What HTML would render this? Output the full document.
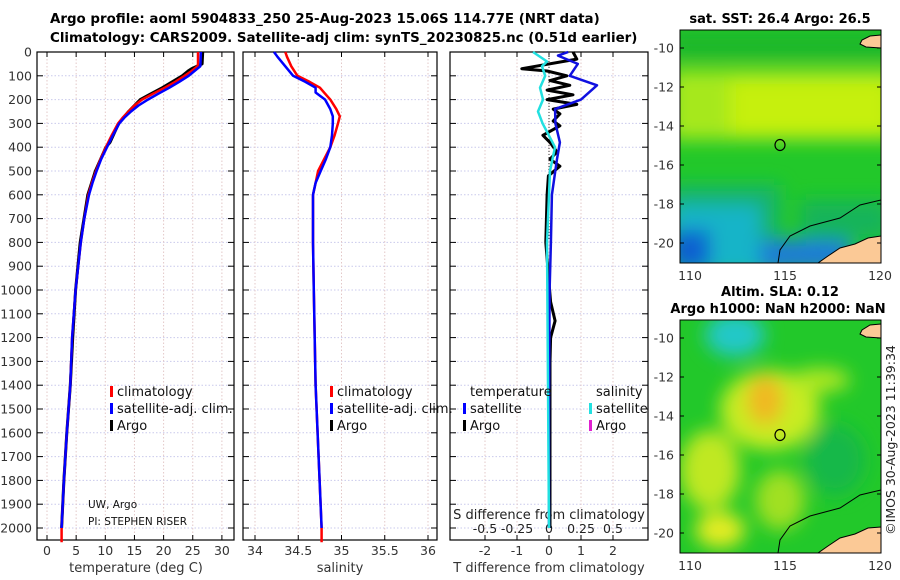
<!DOCTYPE html>
<html><head><meta charset="utf-8">
<style>
body{margin:0;background:#fff;}
svg{display:block;font-family:"DejaVu Sans","Liberation Sans",sans-serif;}
</style></head>
<body>
<svg id="root" width="900" height="580" viewBox="0 0 900 580" xmlns="http://www.w3.org/2000/svg">
<defs>
<filter id="blur" x="-20%" y="-20%" width="140%" height="140%"><feGaussianBlur stdDeviation="9"/></filter>
<clipPath id="m1"><rect x="680" y="30" width="201" height="233"/></clipPath>
<clipPath id="m2"><rect x="680" y="320" width="201" height="233"/></clipPath>
</defs>
<text x="50" y="23" font-size="13.4" font-weight="bold">Argo profile: aoml 5904833_250 25-Aug-2023 15.06S 114.77E (NRT data)</text>
<text x="50" y="42" font-size="13.4" font-weight="bold">Climatology: CARS2009. Satellite-adj clim: synTS_20230825.nc (0.51d earlier)</text>
<g id="plots"></g>

<!-- SST map -->
<g>
<text x="780" y="23" font-size="13" font-weight="bold" text-anchor="middle">sat. SST: 26.4 Argo: 26.5</text>
<g clip-path="url(#m1)">
<rect x="680" y="30" width="201" height="233" fill="#22c82a"/>
<g filter="url(#blur)">
<rect x="670" y="70" width="230" height="70" fill="#a6e81e"/>
<rect x="730" y="80" width="160" height="55" fill="#c6f010"/>
<rect x="670" y="30" width="230" height="30" fill="#1ab82a"/>
<rect x="670" y="185" width="110" height="90" fill="#12b46a"/>
<rect x="670" y="205" width="90" height="70" fill="#16b4c8"/>
<rect x="670" y="230" width="40" height="40" fill="#1060d0"/>
<rect x="800" y="200" width="90" height="40" fill="#14b45a"/>
<rect x="760" y="240" width="90" height="30" fill="#1a7ad8"/>
</g>
<path d="M881,236 L868,238 L855,244 L840,248 L828,256 L818,263 L881,263 Z" fill="#fbc996" stroke="#000" stroke-width="1"/>
<path d="M881,35 L870,36 L862,40 L860,44 L866,47 L881,48 Z" fill="#fbc996" stroke="#000" stroke-width="1"/>
<path d="M778,263 L780,250 L790,236 L810,226 L840,218 L860,205 L881,200" fill="none" stroke="#000" stroke-width="1"/>
</g>
<rect x="680" y="30" width="201" height="233" fill="none" stroke="#000" stroke-width="1"/>
<ellipse cx="780" cy="145" rx="5" ry="5.5" fill="none" stroke="#000" stroke-width="1.2"/>
</g>
<!-- SLA map -->
<g>
<text x="780" y="296" font-size="13" font-weight="bold" text-anchor="middle">Altim. SLA: 0.12</text>
<text x="778" y="313" font-size="13" font-weight="bold" text-anchor="middle">Argo h1000: NaN h2000: NaN</text>
<g clip-path="url(#m2)">
<rect x="680" y="320" width="201" height="233" fill="#22c82a"/>
<g filter="url(#blur)">
<ellipse cx="735" cy="335" rx="30" ry="22" fill="#20c8c8"/>
<ellipse cx="770" cy="410" rx="50" ry="40" fill="#c8ec20"/>
<ellipse cx="765" cy="400" rx="18" ry="25" fill="#f0b820"/>
<ellipse cx="820" cy="380" rx="30" ry="12" fill="#b0e820"/>
<ellipse cx="710" cy="470" rx="30" ry="40" fill="#c0e820"/>
<ellipse cx="720" cy="530" rx="25" ry="18" fill="#e4ec20"/>
<ellipse cx="780" cy="500" rx="25" ry="30" fill="#a0e020"/>
<ellipse cx="835" cy="460" rx="30" ry="35" fill="#14b84a"/>
</g>
<path d="M881,527 L868,528 L855,534 L840,538 L828,546 L818,553 L881,553 Z" fill="#fbc996" stroke="#000" stroke-width="1"/>
<path d="M881,324 L870,325 L862,330 L860,334 L866,337 L881,338 Z" fill="#fbc996" stroke="#000" stroke-width="1"/>
<path d="M778,553 L780,540 L790,526 L810,516 L840,508 L860,495 L881,490" fill="none" stroke="#000" stroke-width="1"/>
</g>
<rect x="680" y="320" width="201" height="233" fill="none" stroke="#000" stroke-width="1"/>
<ellipse cx="780" cy="435" rx="5" ry="5.5" fill="none" stroke="#000" stroke-width="1.2"/>
</g>
<g id="maptk"></g>
<text transform="translate(895,440) rotate(-90)" font-size="12.5" fill="#222" text-anchor="middle">©IMOS 30-Aug-2023 11:39:34</text>
</svg>
<script>
// ---- data ----
const depthTicks=[0,100,200,300,400,500,600,700,800,900,1000,1100,1200,1300,1400,1500,1600,1700,1800,1900,2000];
const tempTicks=[0,5,10,15,20,25,30];
const salTicks=[34,34.5,35,35.5,36];
const tdiffTicks=[-2,-1,0,1,2];
const sdiffTicks=[-0.5,-0.25,0,0.25,0.5];
const tempClimDepth=[0,50,60,80,100,125,150,175,200,225,250,275,300,350,400,450,500,550,600,700,800,1000,1200,1400,1600,1800,2000,2060];
const tempClimVal=[25.9,25.9,25.8,24.8,23.6,22.0,20.2,18.2,16.3,15.0,14.0,13.0,12.2,11.1,10.1,9.2,8.4,7.7,7.1,6.4,5.8,4.9,4.3,4.0,3.4,2.9,2.5,2.5];
const tempSatDepth=[0,60,80,100,125,150,175,200,225,250,275,300,350,400,450,500,550,600,700,800,1000,1200,1400,1600,1800,2000];
const tempSatVal=[26.4,26.3,25.3,24.3,22.7,21.0,19.1,17.3,15.7,14.4,13.3,12.4,11.3,10.3,9.3,8.5,7.8,7.2,6.4,5.8,4.9,4.3,4.0,3.4,2.9,2.5];
const tempArgoDepth=[0,50,70,80,100,125,150,180,200,250,300,380,400,500,600,800,1000,1200,1400,1600,1800,2000];
const tempArgoVal=[26.7,26.6,24.8,24.2,23.2,21.5,19.8,17.5,16.0,14.0,12.3,10.8,10.1,8.3,7.0,5.7,4.9,4.4,4.0,3.4,2.9,2.5];
const salClimDepth=[0,20,60,100,125,150,175,200,240,270,300,350,400,450,500,550,600,800,1000,1400,2000,2060];
const salClimVal=[34.35,34.37,34.42,34.49,34.63,34.75,34.81,34.87,34.94,34.98,34.96,34.92,34.87,34.8,34.73,34.7,34.67,34.67,34.68,34.7,34.77,34.77];
const salSatDepth=[0,20,60,100,125,150,170,200,240,270,300,350,400,450,500,550,600,800,1000,1400,2000];
const salSatVal=[34.22,34.26,34.35,34.44,34.58,34.7,34.7,34.81,34.87,34.9,34.9,34.89,34.87,34.82,34.76,34.7,34.67,34.67,34.68,34.7,34.77];
const tdSatDepth=[0,15,50,100,140,200,240,300,380,450,600,800,1000,1500,2000];
const tdSatVal=[0.6,0.28,0.9,0.65,1.5,1.0,0.19,0.2,0.34,0.25,0.09,0.06,0.02,0.0,0.0];
const tdArgoDepth=[0,30,70,80,100,120,140,160,180,200,220,240,260,290,310,350,380,420,450,480,520,600,800,1000,1050,1130,1200,1300,2000];
const tdArgoVal=[0.75,0.87,-0.85,-0.06,0.56,0.03,0.65,-0.06,0.75,-0.06,0.87,0.13,0.34,0.13,0.34,-0.19,0.03,0.25,0.03,0.34,-0.02,-0.06,-0.1,0.02,0.05,0.19,0.05,0.03,0.03];
const sdSatDepth=[0,40,60,100,150,200,250,300,400,500,800,2000];
const sdSatVal=[-0.125,-0.016,-0.055,-0.03,-0.07,-0.047,-0.086,-0.05,0.047,0.008,-0.016,0.0];
const latTicks=[-10,-12,-14,-16,-18,-20];
const lonTicks=[110,115,120];

const NS='http://www.w3.org/2000/svg';
const g=document.getElementById('plots');
function el(t,a,p){const e=document.createElementNS(NS,t);for(const k in a)e.setAttribute(k,a[k]);(p||g).appendChild(e);return e;}
const Y0=52,Y1=540;
const yD=d=>52+d*0.238;
const panels=[{x0:37,x1:234,name:'temperature'},{x0:243,x1:437,name:'salinity'},{x0:450,x1:648,name:'difference'}];
const xT=v=>47+v*5.83;
const xS=v=>255+(v-34)*86.5;
const xTD=v=>549+v*32;
const xSD=v=>549+v*128;
function line(xs,ds,f,color,w,name,grp){
  const p=el('path',{d:ds.map((d,i)=>(i?'L':'M')+f(xs[i]).toFixed(1)+','+yD(d).toFixed(1)).join(''),fill:'none',stroke:color,'stroke-width':w,'stroke-linejoin':'round'},grp);
  
  
}
panels.forEach((P,pi)=>{
  const pg=el('g',{});
  
  
  depthTicks.forEach(d=>{
    el('line',{x1:P.x0,x2:P.x1,y1:yD(d),y2:yD(d),stroke:'#c9c9ec','stroke-width':1,'stroke-dasharray':'1.5,2'},pg);
    el('line',{x1:P.x0,x2:P.x0+6,y1:yD(d),y2:yD(d),stroke:'#000'},pg);
    el('line',{x1:P.x1-6,x2:P.x1,y1:yD(d),y2:yD(d),stroke:'#000'},pg);
  });
  let ticks,f;
  if(pi==0){ticks=tempTicks;f=xT;}else if(pi==1){ticks=salTicks;f=xS;}else{ticks=tdiffTicks;f=xTD;}
  ticks.forEach(v=>{
    el('line',{x1:f(v),x2:f(v),y1:Y0,y2:Y1,stroke:'#e3c8c8','stroke-width':1,'stroke-dasharray':'1.5,2'},pg);
    el('line',{x1:f(v),x2:f(v),y1:Y1,y2:Y1-5,stroke:'#000'},pg);
    el('line',{x1:f(v),x2:f(v),y1:Y0,y2:Y0+5,stroke:'#000'},pg);
    const t=el('text',{x:f(v),y:555,'font-size':12.5,fill:'#333','text-anchor':'middle'},pg);
    t.textContent=String(v);
    
    
  });
  el('rect',{x:P.x0,y:Y0,width:P.x1-P.x0,height:Y1-Y0,fill:'none',stroke:'#000','stroke-width':1.2},pg);
});
depthTicks.forEach(d=>{
  const t=el('text',{x:32,y:yD(d)+4.5,'font-size':12.5,fill:'#333','text-anchor':'end'});
  t.textContent=String(d);
  
  
});
[['temperature (deg C)',136],['salinity',340],['T difference from climatology',549]].forEach(([s,x])=>{
  const t=el('text',{x:x,y:572,'font-size':13,fill:'#333','text-anchor':'middle'});
  t.textContent=s;
  
  
});
el('line',{x1:549,x2:549,y1:Y0,y2:240,stroke:'#333','stroke-dasharray':'1,2'});
const st=el('text',{x:549,y:519,'font-size':13,fill:'#222','text-anchor':'middle'});
st.textContent='S difference from climatology';


sdiffTicks.forEach(v=>{
  const t=el('text',{x:xSD(v),y:533,'font-size':12.5,fill:'#222','text-anchor':'middle'});
  t.textContent=String(v);
  
  
});
line(tempArgoVal,tempArgoDepth,xT,'#000',3,'temp-argo-line');
line(tempClimVal,tempClimDepth,xT,'#f00',2.5,'temp-climatology-line');
line(tempSatVal,tempSatDepth,xT,'#0000ff',2.5,'temp-satellite-line');
line(salClimVal,salClimDepth,xS,'#f00',2.5,'salinity-climatology-line');
line(salSatVal,salSatDepth,xS,'#0000ff',2.5,'salinity-satellite-line');
line(tdArgoVal,tdArgoDepth,xTD,'#000',3,'tdiff-argo-line');
line(tdSatVal,tdSatDepth,xTD,'#1010e0',2.5,'tdiff-satellite-line');
line(sdSatVal,sdSatDepth,xSD,'#22e0e0',2.5,'sdiff-satellite-line');
function leg(x,y,color,label){
  const lg=el('g',{});
  
  
  if(color) el('rect',{x:x,y:y-10,width:3,height:11,fill:color},lg);
  const t=el('text',{x:x+(color?7:0),y:y,'font-size':13,fill:'#111'},lg);
  t.textContent=label;
}
[[110,'#f00','climatology',396],[110,'#00f','satellite-adj. clim.',413],[110,'#000','Argo',430]].forEach(a=>leg(a[0],a[3],a[1],a[2]));
[[330,'#f00','climatology',396],[330,'#00f','satellite-adj. clim.',413],[330,'#000','Argo',430]].forEach(a=>leg(a[0],a[3],a[1],a[2]));
leg(470,396,null,'temperature');leg(596,396,null,'salinity');
leg(463,413,'#00f','satellite');leg(463,430,'#000','Argo');
leg(589,413,'#22e0e0','satellite');leg(589,430,'#e020d0','Argo');
const c1=el('text',{x:88,y:508,'font-size':10.5,fill:'#111'});c1.textContent='UW, Argo';

const c2=el('text',{x:88,y:525,'font-size':10.5,fill:'#111'});c2.textContent='PI: STEPHEN RISER';

const mg=document.getElementById('maptk');
[[30,48],[320,338]].forEach(([top,y10])=>{
  latTicks.forEach(v=>{
    const y=y10+(-10-v)*19.5;
    el('line',{x1:680,x2:684,y1:y,y2:y,stroke:'#000'},mg);
    el('line',{x1:877,x2:881,y1:y,y2:y,stroke:'#000'},mg);
    const t=el('text',{x:674,y:y+4.5,'font-size':12.5,fill:'#333','text-anchor':'end'},mg);
    t.textContent=String(v);
    
    
  });
  lonTicks.forEach(v=>{
    const x=690+(v-110)*19;
    const t=el('text',{x:x,y:top+233+17,'font-size':12.5,fill:'#333','text-anchor':'middle'},mg);
    t.textContent=String(v);
    
    
  });
});
</script>
</body></html>
